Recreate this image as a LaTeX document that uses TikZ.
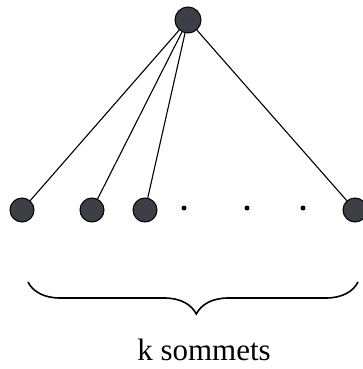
\documentclass[tikz,border=0pt]{standalone}
\usepackage{fontspec}
\setmainfont{Liberation Serif}
\usepackage{tikz}
\usetikzlibrary{decorations.pathreplacing}
\definecolor{VertexGray}{HTML}{3C3F45}

\tikzset{
  vertex/.style={circle,fill=VertexGray,draw=black,line width=1pt,minimum size=24pt,inner sep=0pt},
  petit/.style={circle,fill=black,minimum size=5pt,inner sep=0pt},
  arete/.style={line width=1.1pt}
}

\begin{document}
\begin{tikzpicture}[x=1pt,y=-1pt]
\useasboundingbox (0,0) rectangle (362,369);
% sommet central
\node[vertex,minimum width=26pt] (racine) at (188,20) {};
% feuilles
\node[vertex] (f1) at (22,210) {};
\node[vertex] (f2) at (92,210) {};
\node[vertex] (f3) at (145,210) {};
\node[vertex] (fk) at (355,210) {};
\node[petit] (p1) at (184,208) {};
\node[petit] (p2) at (247,208) {};
\node[petit] (p3) at (303,208) {};
\foreach \f in {f1,f2,f3,fk}
  \draw[arete] (racine) -- (\f);
% accolade
\coordinate (ga) at (28,282);
\coordinate (da) at (358,282);
\draw[line width=1.6pt,decorate,decoration={brace,mirror,amplitude=32pt,aspect=0.51}] (ga) -- (da);
\node[font=\fontsize{31}{36}\selectfont,inner sep=0pt] (nom) at (204,350) {k sommets};
\end{tikzpicture}
\end{document}
